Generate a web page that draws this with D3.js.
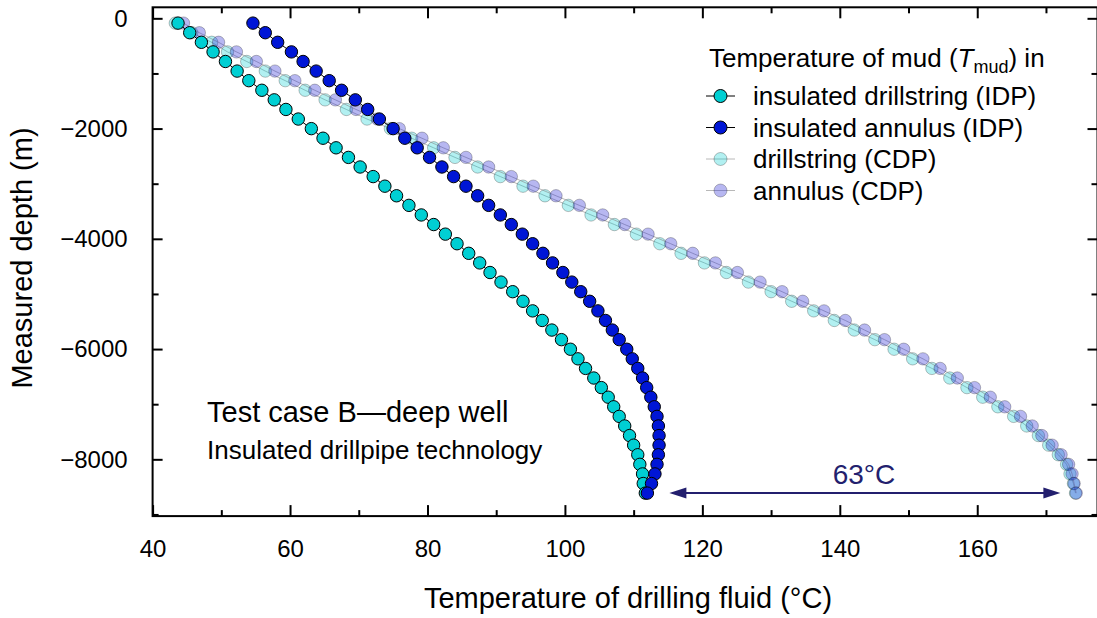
<!DOCTYPE html>
<html>
<head>
<meta charset="utf-8">
<script src="https://cdn.jsdelivr.net/npm/d3@7"></script>
<style>
  body { margin: 0; background: #fff; }
  text { font-family: "Liberation Sans", Arial, sans-serif; fill: #000; }
</style>
</head>
<body>
<svg id="chart" width="1097" height="618"></svg>
<script>
// measured depth of every marker (m)
const depth = [-87, -261, -435, -609, -783, -957, -1131, -1305, -1479, -1653,
  -1827, -2001, -2175, -2349, -2523, -2697, -2871, -3045, -3219, -3393,
  -3567, -3741, -3915, -4089, -4263, -4437, -4611, -4785, -4959, -5133,
  -5307, -5481, -5655, -5829, -6003, -6177, -6351, -6525, -6699, -6873,
  -7047, -7221, -7395, -7569, -7743, -7917, -8091, -8265, -8439, -8613];

// mud temperature (°C)
const idpString = [43.7, 45.4, 47.1, 48.8, 50.6, 52.3, 54.0, 55.9, 57.7, 59.4,
  61.2, 63.1, 64.8, 66.7, 68.5, 70.2, 72.1, 73.8, 75.5, 77.3,
  79.1, 80.9, 82.6, 84.3, 86.0, 87.6, 89.1, 90.7, 92.4, 93.9,
  95.3, 96.7, 98.1, 99.5, 100.8, 101.9, 103.0, 104.2, 105.3, 106.3,
  107.1, 107.9, 108.7, 109.4, 110.0, 110.6, 110.9, 111.3, 111.4, 111.7];
const idpAnnulus = [54.6, 56.4, 58.2, 60.2, 61.9, 63.8, 65.7, 67.5, 69.5, 71.3,
  73.0, 75.0, 76.7, 78.5, 80.3, 82.1, 83.8, 85.6, 87.3, 88.9,
  90.6, 92.2, 93.8, 95.3, 96.8, 98.2, 99.7, 101.0, 102.3, 103.6,
  104.8, 105.9, 106.9, 107.9, 109.0, 109.8, 110.6, 111.3, 111.9, 112.5,
  113.0, 113.4, 113.6, 113.7, 113.7, 113.6, 113.4, 113.1, 112.6, 112.0];
const cdpString = [43.3, 45.7, 48.6, 50.9, 53.7, 56.4, 59.3, 62.2, 65.1, 68.2,
  71.2, 74.6, 77.7, 80.9, 84.0, 87.3, 90.6, 93.9, 97.1, 100.5,
  103.8, 107.2, 110.4, 113.8, 116.9, 120.3, 123.5, 126.7, 130.0, 133.0,
  136.2, 139.2, 142.1, 145.1, 147.9, 150.6, 153.4, 156.0, 158.5, 160.8,
  163.0, 165.3, 167.2, 168.9, 170.4, 171.8, 173.0, 173.5, 174.0, 174.3];
const cdpAnnulus = [44.5, 46.8, 49.6, 52.2, 55.1, 57.8, 60.7, 63.6, 66.6, 69.6,
  72.7, 75.9, 79.2, 82.3, 85.6, 88.9, 92.2, 95.4, 98.7, 102.1,
  105.5, 108.7, 112.1, 115.4, 118.6, 121.9, 125.1, 128.4, 131.6, 134.6,
  137.7, 140.8, 143.6, 146.5, 149.3, 152.1, 154.6, 157.1, 159.6, 161.9,
  164.0, 166.3, 168.0, 169.4, 170.9, 172.2, 173.3, 173.8, 174.1, 174.4];

const seriesNames = ['insulated drillstring (IDP)', 'insulated annulus (IDP)',
  'drillstring (CDP)', 'annulus (CDP)'];

const xTicks = [40, 60, 80, 100, 120, 140, 160];
const xMinor = [50, 70, 90, 110, 130, 150, 170];
const yTicks = [0, -2000, -4000, -6000, -8000];
const yMinor = [-1000, -3000, -5000, -7000, -9000];

// the 63°C gap at the bottom hole
const gapFrom = 115.2, gapTo = 172.1, gapDepth = -8613;

const svg = d3.select('#chart');

const x = d3.scaleLinear().domain([40, 177.5]).range([152.6, 1097.5]);
const y = d3.scaleLinear().domain([-9030, 200]).range([516.1, 7.3]);

const pLeft = x.range()[0], pRight = x.range()[1];
const pTop = y.range()[1], pBottom = y.range()[0];

// styles per series: CDP ones are see-through
const styles = [
  {fill: '#00cfd3', op: 1, stroke: '#000', sop: 1, line: '#000', lop: 1},
  {fill: '#0016d6', op: 1, stroke: '#000', sop: 1, line: '#000', lop: 1},
  {fill: '#00cdd2', op: 0.3, stroke: '#000', sop: 0.25, line: '#888', lop: 0.6},
  {fill: '#3030d8', op: 0.35, stroke: '#000', sop: 0.25, line: '#888', lop: 0.6}
];
const allSeries = [idpString, idpAnnulus, cdpString, cdpAnnulus];

const line = d3.line()
  .x(d => x(d[0]))
  .y(d => y(d[1]));

// draw CDP first so IDP sits on top
[2, 3, 0, 1].forEach(function(s) {
  const pts = allSeries[s].map((t, i) => [t, depth[i]]);
  const st = styles[s];
  svg.append('path')
    .datum(pts)
    .attr('d', line)
    .attr('fill', 'none')
    .attr('stroke', st.line)
    .attr('stroke-opacity', st.lop)
    .attr('stroke-width', 1);
  svg.append('g')
    .selectAll('circle')
    .data(pts)
    .enter()
    .append('circle')
    .attr('cx', d => x(d[0]))
    .attr('cy', d => y(d[1]))
    .attr('r', 6.2)
    .attr('fill', st.fill)
    .attr('fill-opacity', st.op)
    .attr('stroke', st.stroke)
    .attr('stroke-opacity', st.sop)
    .attr('stroke-width', 1);
});

// axes, ticks point inward on all four sides
const fmt = d3.format('d');
svg.append('g')
  .attr('transform', 'translate(0,' + pBottom + ')')
  .call(d3.axisBottom(x).tickValues(xTicks).tickSize(-11).tickPadding(24).tickFormat(fmt))
  .call(g => g.select('.domain').remove());
svg.append('g')
  .attr('transform', 'translate(0,' + pBottom + ')')
  .call(d3.axisBottom(x).tickValues(xMinor).tickSize(-6).tickFormat(''))
  .call(g => g.select('.domain').remove());
svg.append('g')
  .attr('transform', 'translate(0,' + pTop + ')')
  .call(d3.axisTop(x).tickValues(xTicks).tickSize(-11).tickFormat(''))
  .call(g => g.select('.domain').remove());
svg.append('g')
  .attr('transform', 'translate(0,' + pTop + ')')
  .call(d3.axisTop(x).tickValues(xMinor).tickSize(-6).tickFormat(''))
  .call(g => g.select('.domain').remove());

svg.append('g')
  .attr('transform', 'translate(' + pLeft + ',0)')
  .call(d3.axisLeft(y).tickValues(yTicks).tickSize(-10).tickPadding(25).tickFormat(fmt))
  .call(g => g.select('.domain').remove());
svg.append('g')
  .attr('transform', 'translate(' + pLeft + ',0)')
  .call(d3.axisLeft(y).tickValues(yMinor).tickSize(-6).tickFormat(''))
  .call(g => g.select('.domain').remove());
svg.append('g')
  .attr('transform', 'translate(' + pRight + ',0)')
  .call(d3.axisRight(y).tickValues(yTicks).tickSize(-10).tickFormat(''))
  .call(g => g.select('.domain').remove());
svg.append('g')
  .attr('transform', 'translate(' + pRight + ',0)')
  .call(d3.axisRight(y).tickValues(yMinor).tickSize(-6).tickFormat(''))
  .call(g => g.select('.domain').remove());

svg.selectAll('.tick line').attr('stroke', '#000').attr('stroke-width', 2);
svg.selectAll('.tick text')
  .style('font-size', '24px')
  .style('font-family', '"Liberation Sans", Arial, sans-serif')
  .attr('fill', '#000');

// frame
svg.append('rect')
  .attr('x', pLeft).attr('y', pTop)
  .attr('width', pRight - pLeft).attr('height', pBottom - pTop)
  .attr('fill', 'none')
  .attr('stroke', '#000')
  .attr('stroke-width', 2);

// axis titles
svg.append('text')
  .attr('x', 628)
  .attr('y', 608)
  .attr('text-anchor', 'middle')
  .style('font-size', '29px')
  .text('Temperature of drilling fluid (°C)');

svg.append('text')
  .attr('transform', 'translate(32,258) rotate(-90)')
  .attr('text-anchor', 'middle')
  .style('font-size', '29px')
  .text('Measured depth (m)');

// legend
const lg = svg.append('g');
const title = lg.append('text').attr('x', 709).attr('y', 67).style('font-size', '26px');
title.append('tspan').text('Temperature of mud (');
title.append('tspan').style('font-style', 'italic').text('T');
title.append('tspan').attr('dy', 6).style('font-size', '18px').text('mud');
title.append('tspan').attr('dy', -6).text(') in');

const rows = lg.selectAll('g.row')
  .data(seriesNames)
  .enter()
  .append('g')
  .attr('class', 'row')
  .attr('transform', (d, i) => 'translate(0,' + (96 + i * 31.5) + ')');
rows.append('line')
  .attr('x1', 706).attr('x2', 735)
  .attr('stroke', (d, i) => styles[i].line)
  .attr('stroke-opacity', (d, i) => styles[i].lop)
  .attr('stroke-width', 1);
rows.append('circle')
  .attr('cx', 720.5).attr('r', 6.5)
  .attr('fill', (d, i) => styles[i].fill)
  .attr('fill-opacity', (d, i) => styles[i].op)
  .attr('stroke', '#000')
  .attr('stroke-opacity', (d, i) => styles[i].sop);
rows.append('text')
  .attr('x', 753).attr('y', 9)
  .style('font-size', '26px')
  .text(d => d);

// case notes
svg.append('text').attr('x', 207).attr('y', 422).style('font-size', '29px')
  .text('Test case B\u2014deep well');
svg.append('text').attr('x', 207).attr('y', 459).style('font-size', '26px')
  .text('Insulated drillpipe technology');

// double arrow with the temperature gap
const navy = '#231f6e';
const ay = y(gapDepth), ax1 = x(gapFrom), ax2 = x(gapTo);
svg.append('line')
  .attr('x1', ax1 + 14).attr('x2', ax2 - 14)
  .attr('y1', ay).attr('y2', ay)
  .attr('stroke', navy).attr('stroke-width', 2);
svg.append('path')
  .attr('d', 'M' + ax1 + ',' + ay + 'L' + (ax1 + 17) + ',' + (ay - 5.5) + 'L' + (ax1 + 17) + ',' + (ay + 5.5) + 'Z')
  .attr('fill', navy);
svg.append('path')
  .attr('d', 'M' + ax2 + ',' + ay + 'L' + (ax2 - 17) + ',' + (ay - 5.5) + 'L' + (ax2 - 17) + ',' + (ay + 5.5) + 'Z')
  .attr('fill', navy);
svg.append('text')
  .attr('x', 864)
  .attr('y', 484)
  .attr('text-anchor', 'middle')
  .style('font-size', '28px')
  .style('fill', navy)
  .text('63°C');
</script>
</body>
</html>
